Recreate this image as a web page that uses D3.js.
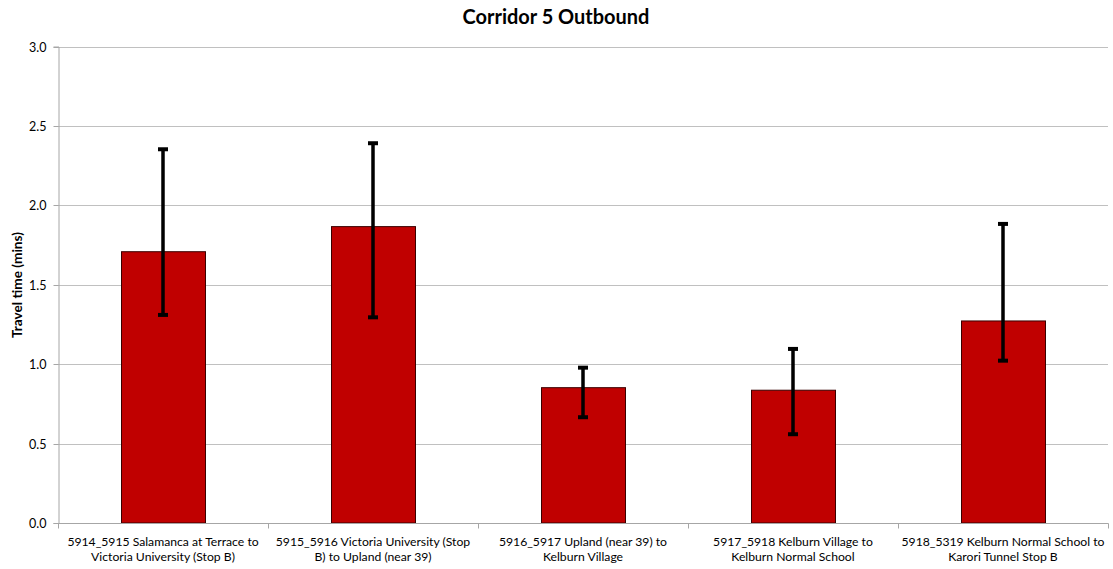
<!DOCTYPE html>
<html>
<head>
<meta charset="utf-8">
<script src="https://cdn.jsdelivr.net/npm/d3@7"></script>
<style>
  html, body { margin: 0; padding: 0; background: #fff; }
  svg { display: block; font-family: Lato, "Open Sans", sans-serif; }
</style>
</head>
<body>
<svg id="chart" width="1113" height="569"></svg>
<script>
const title = "Corridor 5 Outbound";
const yTitle = "Travel time (mins)";
const categories = [
  ["5914_5915 Salamanca at Terrace to", "Victoria University (Stop B)"],
  ["5915_5916 Victoria University (Stop", "B) to Upland (near 39)"],
  ["5916_5917 Upland (near 39) to", "Kelburn Village"],
  ["5917_5918 Kelburn Village to", "Kelburn Normal School"],
  ["5918_5319 Kelburn Normal School to", "Karori Tunnel Stop B"]
];
const values = [1.708, 1.866, 0.852, 0.836, 1.272];
const errLow = [1.310, 1.295, 0.666, 0.559, 1.022];
const errHigh = [2.353, 2.391, 0.978, 1.096, 1.883];
const yTicks = [0, 0.5, 1.0, 1.5, 2.0, 2.5, 3.0];

const svg = d3.select("#chart");
const mLeft = 58, mRight = 1108, mTop = 46.5, mBottom = 523;

const x = d3.scaleBand().domain(d3.range(categories.length)).range([mLeft, mRight]).paddingInner(0).paddingOuter(0);
const y = d3.scaleLinear().domain([0, 3]).range([mBottom, mTop]);

// gridlines
svg.append("g").selectAll("line").data(yTicks.filter(d => d > 0)).join("line")
  .attr("x1", mLeft).attr("x2", mRight)
  .attr("y1", d => Math.round(y(d)) + 0.5).attr("y2", d => Math.round(y(d)) + 0.5)
  .attr("stroke", "#c0c0c0").attr("stroke-width", 1);

// y axis
const yAxis = d3.axisLeft(y).tickValues(yTicks).tickFormat(d3.format(".1f")).tickSize(5).tickPadding(7);
const gy = svg.append("g").attr("transform", `translate(${mLeft + 0.5},0)`).call(yAxis);
gy.select(".domain").attr("stroke", "#a6a6a6");
gy.selectAll(".tick line").attr("stroke", "#a6a6a6");
gy.selectAll(".tick text").attr("font-size", 12.5).attr("fill", "#000").attr("font-family", "Lato, sans-serif");
gy.selectAll(".tick").attr("transform", d => `translate(0,${Math.round(y(d)) + 0.5})`);

// bars
const bw = 84;
svg.append("g").selectAll("rect").data(values).join("rect")
  .attr("x", (d, i) => x(i) + x.bandwidth() / 2 - bw / 2 + 0.5)
  .attr("y", d => y(d))
  .attr("width", bw)
  .attr("height", d => mBottom - y(d))
  .attr("fill", "#c00000")
  .attr("stroke", "#3a0000")
  .attr("stroke-width", 1);

// x axis
const gx = svg.append("g").attr("transform", `translate(0,${mBottom + 0.5})`);
gx.append("line").attr("x1", mLeft).attr("x2", mRight + 0.5).attr("stroke", "#a6a6a6");
const bounds = d3.range(categories.length + 1).map(i => i < categories.length ? x(i) : mRight);
gx.selectAll("line.tk").data(bounds).join("line").attr("class", "tk")
  .attr("x1", d => Math.round(d) + 0.5).attr("x2", d => Math.round(d) + 0.5)
  .attr("y1", 0).attr("y2", 5).attr("stroke", "#a6a6a6");

const labels = svg.append("g").selectAll("text").data(categories).join("text")
  .attr("x", (d, i) => x(i) + x.bandwidth() / 2)
  .attr("y", 546)
  .attr("text-anchor", "middle")
  .attr("font-size", 12.2)
  .attr("fill", "#000");
labels.selectAll("tspan").data(d => d).join("tspan")
  .attr("x", function() { return d3.select(this.parentNode).attr("x"); })
  .attr("dy", (d, i) => i === 0 ? 0 : 15)
  .text(d => d);

// error bars
const eg = svg.append("g");
values.forEach((v, i) => {
  const cx = x(i) + x.bandwidth() / 2;
  eg.append("line").attr("x1", cx).attr("x2", cx)
    .attr("y1", y(errHigh[i])).attr("y2", y(errLow[i]))
    .attr("stroke", "#000").attr("stroke-width", 3.5);
  [errHigh[i], errLow[i]].forEach(e => {
    eg.append("line").attr("x1", cx - 5).attr("x2", cx + 5)
      .attr("y1", y(e)).attr("y2", y(e))
      .attr("stroke", "#000").attr("stroke-width", 4);
  });
});

// titles (font size fitted to the reference text lengths)
function fit(sel, base, target) {
  const len = sel.node().getComputedTextLength();
  sel.attr("font-size", base * target / len);
}
const t = svg.append("text").attr("x", 556).attr("y", 24).attr("text-anchor", "middle")
  .attr("font-size", 18).attr("font-weight", "bold").attr("fill", "#000").text(title);
fit(t, 18, 187);
const yt = svg.append("text").attr("transform", `translate(22,285) rotate(-90)`)
  .attr("text-anchor", "middle").attr("font-size", 12).attr("font-weight", "bold")
  .attr("fill", "#000").text(yTitle);
fit(yt, 12, 106);
</script>
</body>
</html>
